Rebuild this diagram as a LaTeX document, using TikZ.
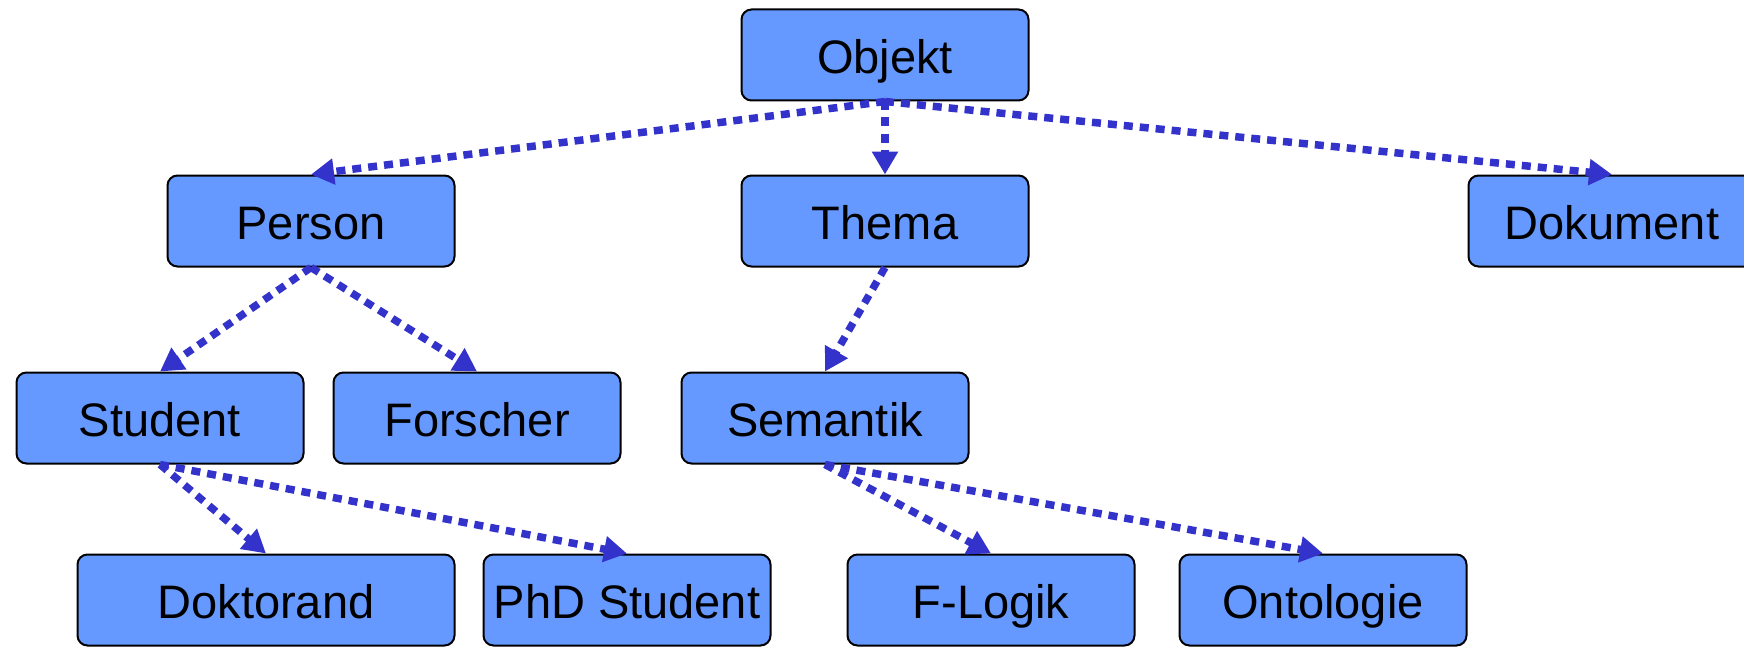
\documentclass[tikz,border=0pt]{standalone}
\usepackage{fontspec}
\setmainfont{Liberation Sans}
\usetikzlibrary{arrows.meta}
\definecolor{boxfill}{RGB}{102,153,255}
\definecolor{edgeblue}{RGB}{51,51,204}
\begin{document}
\begin{tikzpicture}[x=0.5pt,y=-0.5pt,
  cls/.style={rectangle, rounded corners=5pt, draw=black, line width=1pt, fill=boxfill,
    minimum width=143.5pt, minimum height=45.5pt, inner sep=0pt,
    text height=18.5pt, text depth=0pt,
    font=\fontsize{23.5pt}{28pt}\selectfont},
  widecls/.style={cls, minimum width=188.5pt},
  isa/.style={draw=edgeblue, line width=3.75pt, dash pattern=on 4.5pt off 3.5pt,
    -{Triangle[length=11.5pt,width=12.5pt]}}]
\useasboundingbox (0,0) rectangle (1744,647);
\clip (0,0) rectangle (1744,647);
\node[cls] (objekt) at (885,55) {Objekt};
\node[cls] (person) at (311,221) {Person};
\node[cls] (thema) at (885,221) {Thema};
\node[cls] (dokument) at (1612,221) {Dokument};
\node[cls] (student) at (160,418) {Student};
\node[cls] (forscher) at (477,418) {Forscher};
\node[cls] (semantik) at (825,418) {Semantik};
\node[widecls] (doktorand) at (266,600) {Doktorand};
\node[cls] (phd) at (627,600) {PhD Student};
\node[cls] (flogik) at (991,600) {F-Logik};
\node[cls] (ontologie) at (1323,600) {Ontologie};
\draw[isa] (objekt.south) -- (person.north);
\draw[isa] (objekt.south) -- (thema.north);
\draw[isa] (objekt.south) -- (dokument.north);
\draw[isa] (person.south) -- (student.north);
\draw[isa] (person.south) -- (forscher.north);
\draw[isa] (thema.south) -- (semantik.north);
\draw[isa] (student.south) -- (doktorand.north);
\draw[isa] (student.south) -- (phd.north);
\draw[isa] (semantik.south) -- (flogik.north);
\draw[isa] (semantik.south) -- (ontologie.north);
\end{tikzpicture}
\end{document}
